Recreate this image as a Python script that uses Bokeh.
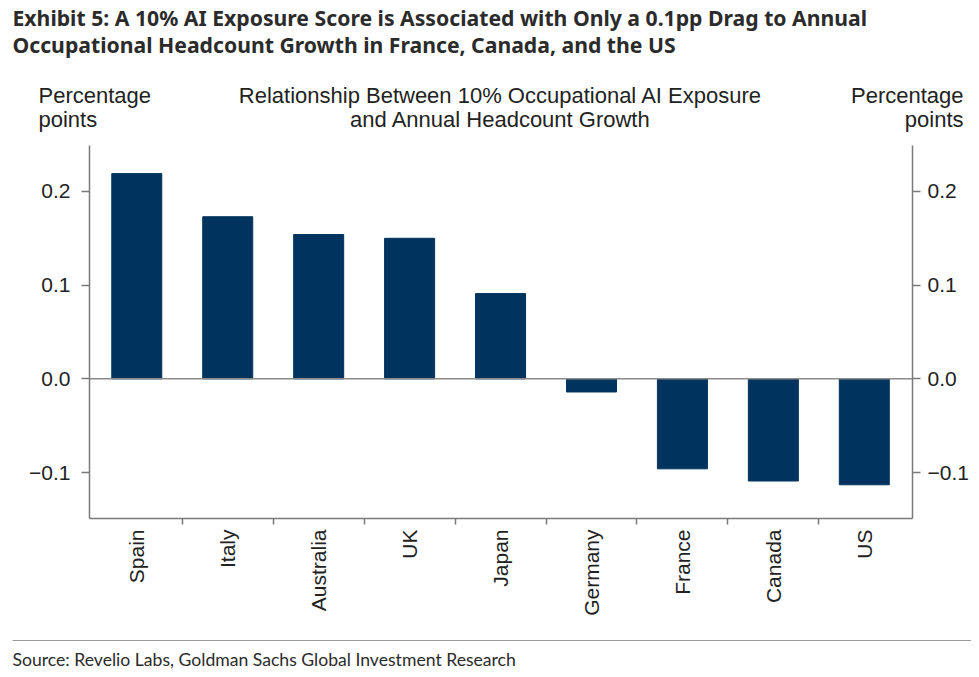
import math
from bokeh.plotting import figure
from bokeh.layouts import column
from bokeh.models import (ColumnDataSource, Range1d, LinearAxis, FixedTicker,
                          CustomJSTickFormatter, Span, Label, BoxAnnotation)
from bokeh.embed import file_html
from bokeh.resources import INLINE

countries = ["Spain", "Italy", "Australia", "UK", "Japan", "Germany", "France", "Canada", "US"]
growth_pp = [0.219, 0.173, 0.154, 0.150, 0.091, -0.014, -0.096, -0.109, -0.113]
y_ticks = [-0.1, 0.0, 0.1, 0.2]

title_lines = ["Exhibit 5: A 10% AI Exposure Score is Associated with Only a 0.1pp Drag to Annual",
               "Occupational Headcount Growth in France, Canada, and the US"]
subtitle_lines = ["Relationship Between 10% Occupational AI Exposure",
                  "and Annual Headcount Growth"]
unit_lines = ["Percentage", "points"]
source_text = "Source: Revelio Labs, Goldman Sachs Global Investment Research"

NAVY = "#00345E"
AXIS = "#7a7a7a"
TXT = "#222222"
HEAD = "#2b2b2b"
FONT = "Liberation Sans"
W = 971


def blank(height):
    # a figure whose frame is the whole canvas, used for text only
    f = figure(width=W, height=height, output_backend="svg", toolbar_location=None,
               x_range=Range1d(0, 1), y_range=Range1d(0, 1),
               x_axis_location=None, y_axis_location=None, min_border=0)
    f.frame_align = False
    f.outline_line_color = None
    f.grid.grid_line_color = None
    return f


def add_text(f, x, y, text, font=FONT, size="22px", style="normal", align="left",
             baseline="alphabetic", color=TXT):
    f.add_layout(Label(x=x, y=y, x_units="screen", y_units="screen", text=text,
                       text_font=font, text_font_size=size, text_font_style=style,
                       text_align=align, text_baseline=baseline, text_color=color))


# ---- header: title and the chart's top texts
head = blank(140)
add_text(head, 12, 123, title_lines[0], font="Noto Sans", size="21.2px", style="bold", color=HEAD)
add_text(head, 12, 96, title_lines[1], font="Noto Sans", size="21.2px", style="bold", color=HEAD)
add_text(head, 500, 45, subtitle_lines[0], align="center")
add_text(head, 500, 21, subtitle_lines[1], align="center")
add_text(head, 38, 45, unit_lines[0])
add_text(head, 38, 21, unit_lines[1])
add_text(head, 963, 45, unit_lines[0], align="right")
add_text(head, 963, 21, unit_lines[1], align="right")

# ---- bar chart
idx = list(range(len(countries)))
src = ColumnDataSource(dict(x=idx, top=growth_pp))

p = figure(width=W, height=490, output_backend="svg", toolbar_location=None,
           x_range=Range1d(-0.52, 8.53), y_range=Range1d(-0.149, 0.249),
           min_border_left=89, min_border_right=W - 913, min_border_top=5,
           min_border_bottom=112)
p.frame_align = False
p.outline_line_color = None
p.grid.grid_line_color = None

p.vbar(x="x", top="top", width=0.55, source=src, fill_color=NAVY, line_color=NAVY)
p.add_layout(Span(location=0, dimension="width", line_color="#8a8a8a", line_width=1.5))

fmt = CustomJSTickFormatter(code="return (tick < -1e-9 ? '\u2212' : '') + Math.abs(tick).toFixed(1);")


def style_y(ax, standoff):
    ax.ticker = FixedTicker(ticks=y_ticks)
    ax.formatter = fmt
    ax.axis_line_color = AXIS
    ax.axis_line_width = 1.5
    ax.major_tick_line_color = AXIS
    ax.major_tick_line_width = 1.5
    ax.major_tick_out = 8
    ax.major_tick_in = 0
    ax.minor_tick_line_color = None
    ax.major_label_text_font = FONT
    ax.major_label_text_font_size = "21px"
    ax.major_label_text_color = TXT
    ax.major_label_standoff = standoff


style_y(p.yaxis[0], 11)
right = LinearAxis()
style_y(right, 7)
p.add_layout(right, "right")

xa = p.xaxis[0]
xa.ticker = FixedTicker(ticks=idx, minor_ticks=[i + 0.5 for i in idx[:-1]])
xa.formatter = CustomJSTickFormatter(args=dict(names=countries),
                                     code="return names[Math.round(tick)] || '';")
xa.axis_line_color = AXIS
xa.axis_line_width = 1.5
xa.major_tick_line_color = None
xa.major_tick_out = 6
xa.major_tick_in = 0
xa.minor_tick_line_color = AXIS
xa.minor_tick_line_width = 1.5
xa.minor_tick_out = 6
xa.minor_tick_in = 0
xa.major_label_orientation = math.pi / 2
xa.major_label_text_font = FONT
xa.major_label_text_font_size = "21px"
xa.major_label_text_color = TXT
xa.major_label_standoff = 5

# ---- footer: rule and source
foot = blank(39)
foot.add_layout(BoxAnnotation(left=12, right=W, bottom=28.5, top=29.5,
                              left_units="screen", right_units="screen",
                              bottom_units="screen", top_units="screen",
                              fill_color="#9a9a9a", fill_alpha=1.0, line_color=None))
add_text(foot, 12, 10, source_text, font="Lato", size="17.6px", baseline="middle", color=HEAD)

page = column(head, p, foot, spacing=0)
open("out.html", "w").write(file_html(page, INLINE))
